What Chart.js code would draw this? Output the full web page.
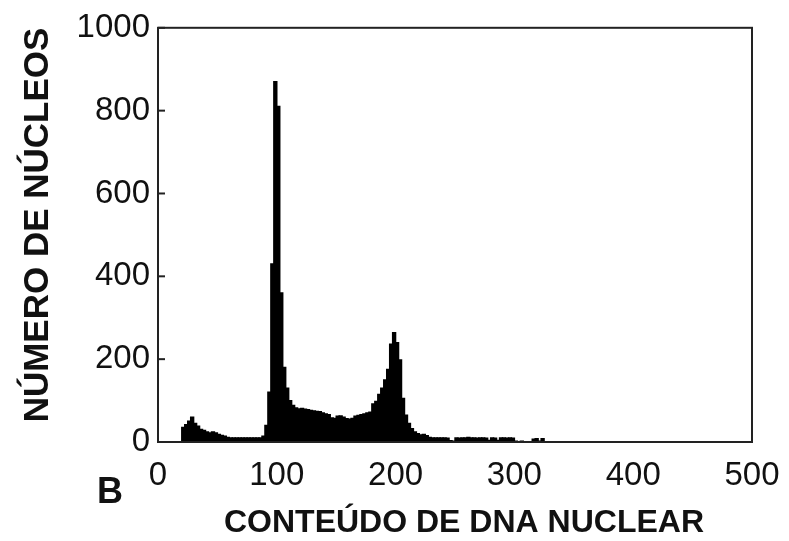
<!DOCTYPE html>
<html>
<head>
<meta charset="utf-8">
<script src="https://cdn.jsdelivr.net/npm/chart.js@4"></script>
<style>
  html, body { margin: 0; padding: 0; background: #fff; }
  #wrap { width: 789px; height: 541px; }
</style>
</head>
<body>
<div id="wrap"><canvas id="dnaChart"></canvas></div>
<script>
// histogram of nuclear DNA content, bins of 2.5 units starting at 0
const binWidth = 2.5;
const counts = [
  0, 0, 0, 0, 0, 0, 0, 0,
  35, 42, 50, 60, 45, 38, 30, 28, 24, 22, 24, 22, 18, 16, 14,
  11, 10, 10, 10, 10, 10, 10, 10, 10, 10, 10, 10,
  14, 40, 120, 430, 870, 810, 360, 180, 130, 100, 88,
  82, 80, 81, 79, 78,
  76, 75, 74, 73,
  70, 68, 66,
  58, 57,
  62, 63, 60,
  56, 55, 57,
  62, 64,
  66, 68, 70, 72,
  92, 98, 115, 130, 150, 175, 236, 264, 240, 198, 105, 65, 45, 32, 24, 20, 17, 18, 15, 11,
  10, 10, 10, 10, 10,
  9, 3, 2,
  10, 9, 10, 10, 11, 10, 10, 9, 10, 10, 9,
  4, 10, 9, 4,
  10, 10, 9, 10, 9,
  2, 1, 2, 1, 1, 1,
  7, 8, 2, 8, 0
];
const xTicks = [0, 100, 200, 300, 400, 500];
const yTicks = [0, 200, 400, 600, 800, 1000];

const yTitle = "NÚMERO DE NÚCLEOS";
const xTitle = "CONTEÚDO DE DNA NUCLEAR";
const panelLabel = "B";

let points = counts.map((c, i) => ({ x: i * binWidth + binWidth / 2, y: c }));

const tickFont = { family: "'Liberation Sans', Arial, sans-serif", size: 33 };

const framePlugin = {
  id: "frame",
  afterDraw(chart) {
    const ctx = chart.ctx;
    const a = chart.chartArea;
    const ys = chart.scales.y;
    ctx.save();
    ctx.strokeStyle = "#222";
    ctx.lineWidth = 2;
    ctx.strokeRect(a.left, a.top, a.right - a.left, a.bottom - a.top);
    // small inward ticks on the y axis
    yTicks.forEach(v => {
      let py = ys.getPixelForValue(v);
      ctx.beginPath();
      ctx.moveTo(a.left, py);
      ctx.lineTo(a.left + 7, py);
      ctx.stroke();
    });

    ctx.fillStyle = "#111";
    ctx.font = "bold 35px 'Liberation Sans', Arial, sans-serif";
    ctx.textAlign = "center";
    ctx.textBaseline = "middle";
    ctx.save();
    ctx.translate(38, 225);
    ctx.rotate(-Math.PI / 2);
    ctx.fillText(yTitle, 0, 0);
    ctx.restore();

    ctx.font = "bold 32px 'Liberation Sans', Arial, sans-serif";
    ctx.fillText(xTitle, 464, 523);

    ctx.font = "bold 36px 'Liberation Sans', Arial, sans-serif";
    ctx.fillText(panelLabel, 110, 493);
    ctx.restore();
  }
};

new Chart(document.getElementById("dnaChart"), {
  type: "bar",
  data: {
    datasets: [{
      data: points,
      backgroundColor: "#000",
      borderWidth: 0,
      inflateAmount: 0.7,
      barPercentage: 1,
      categoryPercentage: 1
    }]
  },
  options: {
    responsive: true,
    maintainAspectRatio: false,
    animation: false,
    layout: { padding: { top: 20, right: 37, left: 0, bottom: 0 } },
    plugins: { legend: { display: false }, tooltip: { enabled: false } },
    scales: {
      x: {
        type: "linear",
        offset: false,
        min: 0,
        max: 500,
        afterBuildTicks(scale) { scale.ticks = xTicks.map(v => ({ value: v })); },
        afterFit(scale) {
          scale.height = 99;
          scale.paddingLeft = 0;
          scale.paddingRight = 0;
        },
        grid: { display: false, drawTicks: false, offset: false },
        border: { display: true, color: "#222", width: 2 },
        ticks: { font: tickFont, color: "#111", padding: 14, maxRotation: 0, autoSkip: false,
                 callback: v => String(v) }
      },
      y: {
        min: 0,
        max: 1000,
        afterBuildTicks(scale) { scale.ticks = yTicks.map(v => ({ value: v })); },
        afterFit(scale) { scale.width = 158; },
        grid: { display: false, drawTicks: false },
        border: { display: true, color: "#222", width: 2 },
        ticks: { font: tickFont, color: "#111", padding: 8, callback: v => String(v) }
      }
    }
  },
  plugins: [framePlugin]
});
</script>
</body>
</html>
